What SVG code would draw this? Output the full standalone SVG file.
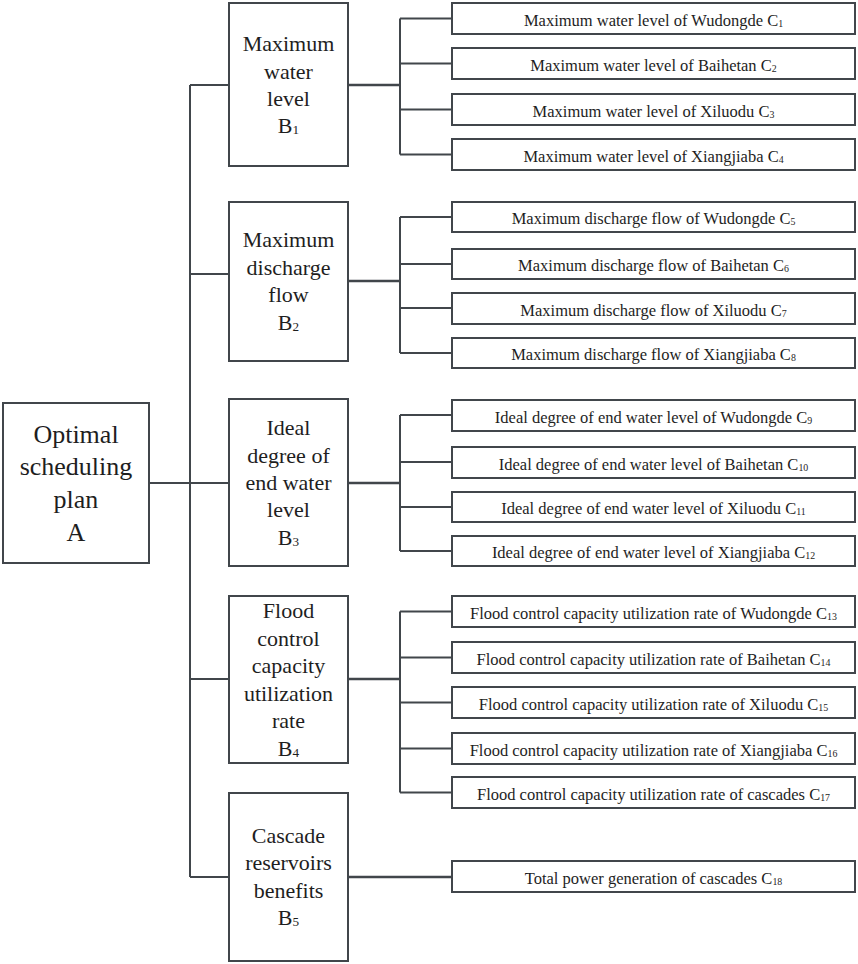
<svg xmlns="http://www.w3.org/2000/svg" width="858" height="964" viewBox="0 0 858 964">
<style>
.box{fill:#fff;stroke:#41464b;stroke-width:2}
.ln{fill:none;stroke:#41464b;stroke-width:2}
.thk{fill:none;stroke:#41464b;stroke-width:2.6}
text{font-family:"Liberation Serif","Times New Roman",serif;fill:#1e1e1e;text-anchor:middle}
.ta{font-size:26px}
.tb{font-size:22px}
.tc{font-size:16.5px}
.sub{font-size:60%}
</style>
<rect width="858" height="964" fill="#fff"/>
<g id="connectors">
<path class="ln" d="M149,483H229M190,85V877M190,85H229M190,274H229M190,679H229M190,877H229"/>
<path class="thk" d="M348,85H400M348,281H400M348,483H400M348,679H400M348,877H452"/>
<path class="ln" d="M400,18.5V154.5M400,18.5H452M400,63.5H452M400,109.5H452M400,154.5H452"/>
<path class="ln" d="M400,217V353M400,217H452M400,264H452M400,308H452M400,353H452"/>
<path class="ln" d="M400,415V551M400,415H452M400,462H452M400,507H452M400,551H452"/>
<path class="ln" d="M400,611.5V792.5M400,611.5H452M400,657.5H452M400,702.5H452M400,748.5H452M400,792.5H452"/>
</g>
<g id="A">
<rect class="box" x="3" y="403" width="146" height="160"/>
<text class="ta" x="76" y="443">Optimal</text>
<text class="ta" x="76" y="475">scheduling</text>
<text class="ta" x="76" y="508">plan</text>
<text class="ta" x="76" y="541">A</text>
</g>
<g id="B1">
<rect class="box" x="229" y="3" width="119" height="163"/>
<text class="tb" x="288.5" y="51">Maximum</text>
<text class="tb" x="288.5" y="79">water</text>
<text class="tb" x="288.5" y="106">level</text>
<text class="tb" x="288.5" y="133">B<tspan class="sub" dy="1">1</tspan></text>
</g>
<g id="B2">
<rect class="box" x="229" y="202" width="119" height="159"/>
<text class="tb" x="288.5" y="247">Maximum</text>
<text class="tb" x="288.5" y="274.5">discharge</text>
<text class="tb" x="288.5" y="302">flow</text>
<text class="tb" x="288.5" y="329.5">B<tspan class="sub" dy="1">2</tspan></text>
</g>
<g id="B3">
<rect class="box" x="229" y="399" width="119" height="167"/>
<text class="tb" x="288.5" y="435">Ideal</text>
<text class="tb" x="288.5" y="463">degree of</text>
<text class="tb" x="288.5" y="490">end water</text>
<text class="tb" x="288.5" y="517">level</text>
<text class="tb" x="288.5" y="545">B<tspan class="sub" dy="1">3</tspan></text>
</g>
<g id="B4">
<rect class="box" x="229" y="596" width="119" height="167"/>
<text class="tb" x="288.5" y="618">Flood</text>
<text class="tb" x="288.5" y="646">control</text>
<text class="tb" x="288.5" y="673">capacity</text>
<text class="tb" x="288.5" y="701">utilization</text>
<text class="tb" x="288.5" y="728">rate</text>
<text class="tb" x="288.5" y="756">B<tspan class="sub" dy="1">4</tspan></text>
</g>
<g id="B5">
<rect class="box" x="229" y="793" width="119" height="168"/>
<text class="tb" x="288.5" y="843">Cascade</text>
<text class="tb" x="288.5" y="870">reservoirs</text>
<text class="tb" x="288.5" y="898">benefits</text>
<text class="tb" x="288.5" y="925">B<tspan class="sub" dy="1">5</tspan></text>
</g>
<g id="C1"><rect class="box" x="452" y="3" width="403" height="31"/><text class="tc" x="653.5" y="25.5">Maximum water level of Wudongde C<tspan class="sub" dy="1">1</tspan></text></g>
<g id="C2"><rect class="box" x="452" y="48" width="403" height="31"/><text class="tc" x="653.5" y="70.5">Maximum water level of Baihetan C<tspan class="sub" dy="1">2</tspan></text></g>
<g id="C3"><rect class="box" x="452" y="94" width="403" height="31"/><text class="tc" x="653.5" y="116.5">Maximum water level of Xiluodu C<tspan class="sub" dy="1">3</tspan></text></g>
<g id="C4"><rect class="box" x="452" y="139" width="403" height="31"/><text class="tc" x="653.5" y="161.5">Maximum water level of Xiangjiaba C<tspan class="sub" dy="1">4</tspan></text></g>
<g id="C5"><rect class="box" x="452" y="202" width="403" height="30"/><text class="tc" x="653.5" y="224">Maximum discharge flow of Wudongde C<tspan class="sub" dy="1">5</tspan></text></g>
<g id="C6"><rect class="box" x="452" y="249" width="403" height="30"/><text class="tc" x="653.5" y="271">Maximum discharge flow of Baihetan C<tspan class="sub" dy="1">6</tspan></text></g>
<g id="C7"><rect class="box" x="452" y="293" width="403" height="31"/><text class="tc" x="653.5" y="315.5">Maximum discharge flow of Xiluodu C<tspan class="sub" dy="1">7</tspan></text></g>
<g id="C8"><rect class="box" x="452" y="338" width="403" height="30"/><text class="tc" x="653.5" y="360">Maximum discharge flow of Xiangjiaba C<tspan class="sub" dy="1">8</tspan></text></g>
<g id="C9"><rect class="box" x="452" y="400" width="403" height="31"/><text class="tc" x="653.5" y="422.5">Ideal degree of end water level of Wudongde C<tspan class="sub" dy="1">9</tspan></text></g>
<g id="C10"><rect class="box" x="452" y="447" width="403" height="31"/><text class="tc" x="653.5" y="469.5">Ideal degree of end water level of Baihetan C<tspan class="sub" dy="1">10</tspan></text></g>
<g id="C11"><rect class="box" x="452" y="492" width="403" height="30"/><text class="tc" x="653.5" y="514">Ideal degree of end water level of Xiluodu C<tspan class="sub" dy="1">11</tspan></text></g>
<g id="C12"><rect class="box" x="452" y="536" width="403" height="30"/><text class="tc" x="653.5" y="558">Ideal degree of end water level of Xiangjiaba C<tspan class="sub" dy="1">12</tspan></text></g>
<g id="C13"><rect class="box" x="452" y="596" width="403" height="31"/><text class="tc" x="653.5" y="618.5">Flood control capacity utilization rate of Wudongde C<tspan class="sub" dy="1">13</tspan></text></g>
<g id="C14"><rect class="box" x="452" y="642" width="403" height="31"/><text class="tc" x="653.5" y="664.5">Flood control capacity utilization rate of Baihetan C<tspan class="sub" dy="1">14</tspan></text></g>
<g id="C15"><rect class="box" x="452" y="687" width="403" height="31"/><text class="tc" x="653.5" y="709.5">Flood control capacity utilization rate of Xiluodu C<tspan class="sub" dy="1">15</tspan></text></g>
<g id="C16"><rect class="box" x="452" y="733" width="403" height="31"/><text class="tc" x="653.5" y="755.5">Flood control capacity utilization rate of Xiangjiaba C<tspan class="sub" dy="1">16</tspan></text></g>
<g id="C17"><rect class="box" x="452" y="777" width="403" height="31"/><text class="tc" x="653.5" y="799.5">Flood control capacity utilization rate of cascades C<tspan class="sub" dy="1">17</tspan></text></g>
<g id="C18"><rect class="box" x="452" y="861" width="403" height="31"/><text class="tc" x="653.5" y="883.5">Total power generation of cascades C<tspan class="sub" dy="1">18</tspan></text></g>
</svg>
